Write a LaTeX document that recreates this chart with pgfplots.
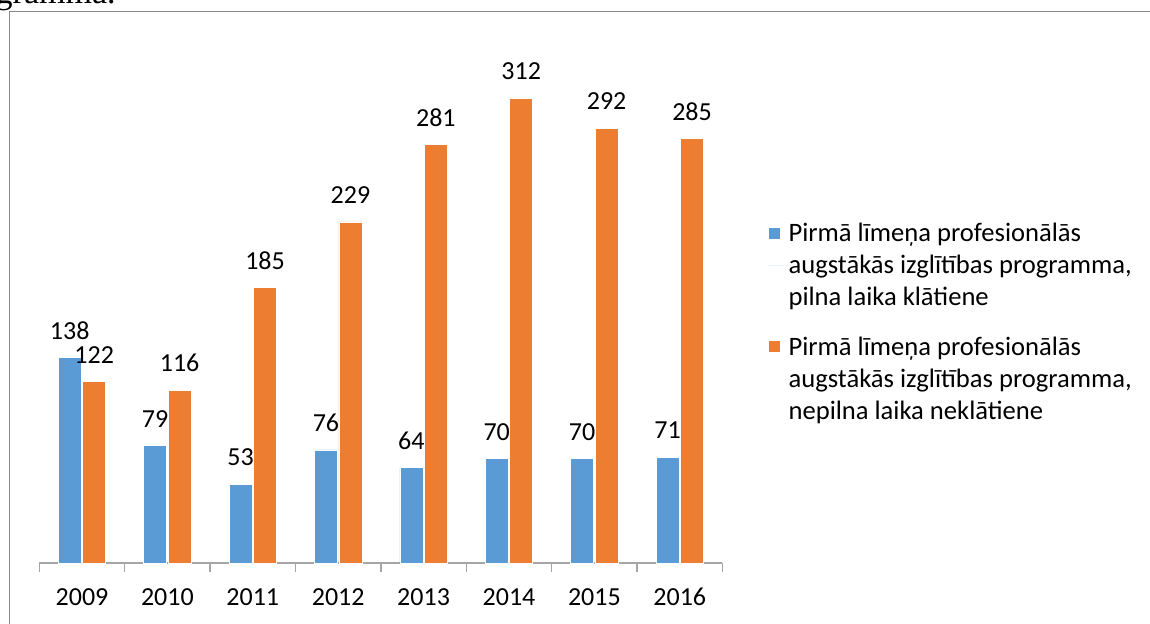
\documentclass[border=0pt]{standalone}
\usepackage{pgfplots}
\pgfplotsset{compat=1.18}
\usepackage{fontspec}
\setmainfont{Carlito}
\newfontfamily\serifdoc{Liberation Serif}
\definecolor{cblue}{HTML}{5B9BD5}
\definecolor{corange}{HTML}{ED7D31}
\definecolor{framegray}{HTML}{878787}
\definecolor{axisgray}{HTML}{A6A6A6}
\begin{document}
\begin{tikzpicture}
\useasboundingbox (0,0) rectangle (575pt,311.5pt);
\clip (0,0) rectangle (575pt,311.5pt);
% cropped document text and frame
\node[anchor=base east, inner sep=0pt, font=\serifdoc\fontsize{17pt}{20pt}\selectfont] at (58pt,309.5pt) {programma.};
\draw[framegray, line width=0.6pt] (4.75pt,-10pt) -- (4.75pt,305.75pt) -- (600pt,305.75pt);
\begin{axis}[
  at={(19.65pt,30pt)}, anchor=south west,
  width=341.6pt, height=253.15pt, scale only axis,
  xmin=-0.5, xmax=7.5, ymin=0, ymax=340,
  axis x line*=bottom, axis y line=none,
  x axis line style={axisgray, line width=0.75pt},
  xtick={0,...,7},
  xticklabels={2009,2010,2011,2012,2013,2014,2015,2016},
  major tick length=0pt,
  minor xtick={-0.5,0.5,1.5,2.5,3.5,4.5,5.5,6.5,7.5},
  minor tick length=4.5pt,
  tick align=outside,
  every tick/.style={axisgray, line width=0.75pt},
  xticklabel style={font=\fontsize{13pt}{15.6pt}\selectfont, inner sep=0pt, anchor=north, yshift=-12.5pt},
  /pgf/number format/assume math mode=true,
  ybar=0.75pt, bar width=11.5pt,
  nodes near coords,
  every node near coord/.append style={font=\fontsize{13pt}{15.6pt}\selectfont, inner sep=0pt, anchor=south, yshift=9pt, text=black},
  legend style={draw=none, fill=none, at={(1.066,0.672)}, anchor=north west,
    font=\fontsize{13.3pt}{16pt}\selectfont, row sep=14pt, cells={align=left}, inner sep=0pt,
    nodes={inner sep=0pt}},
  legend cell align=left,
  legend image code/.code={\fill[#1] (0pt,13.5pt) rectangle (6pt,19.5pt); \path (0pt,0pt) -- (10pt,0pt);},
]
\addplot[fill=cblue, draw=white, line width=0.3pt] coordinates {(0,138) (1,79) (2,53) (3,76) (4,64) (5,70) (6,70) (7,71)};
\addplot[fill=corange, draw=white, line width=0.3pt] coordinates {(0,122) (1,116) (2,185) (3,229) (4,281) (5,312) (6,292) (7,285)};
\addlegendentry{Pirmā līmeņa profesionālās\\augstākās izglītības programma,\\pilna laika klātiene}
\addlegendentry{Pirmā līmeņa profesionālās\\augstākās izglītības programma,\\nepilna laika neklātiene}
\end{axis}
\end{tikzpicture}
\end{document}
